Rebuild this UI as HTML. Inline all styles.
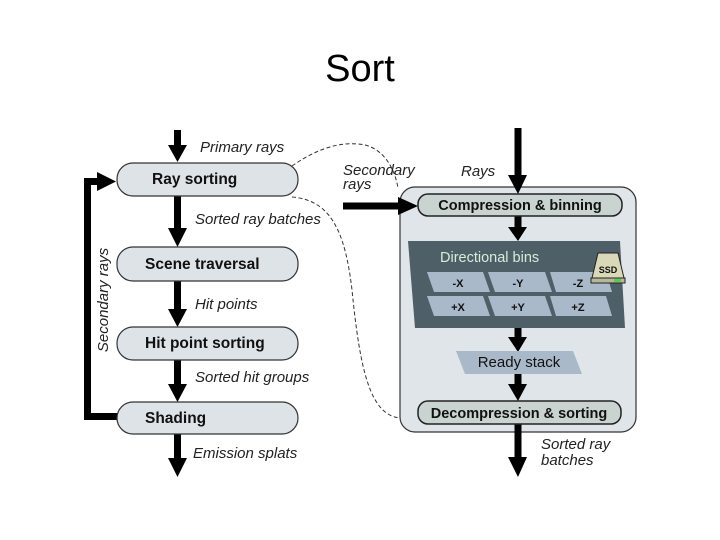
<!DOCTYPE html>
<html><head><meta charset="utf-8"><style>
html,body{margin:0;padding:0;background:#fff;}
svg{display:block;}
text{font-family:"Liberation Sans",Arial,sans-serif;}
.b{font-weight:bold;font-size:15.5px;fill:#111;}
.i{font-style:italic;font-size:15px;fill:#222;}
.bx{fill:#dde3e7;stroke:#333;stroke-width:1.2;}
.in{fill:#c9d3d0;stroke:#222;stroke-width:1.5;}
.cell{fill:#a9b9c9;}
.cl{font-size:11px;fill:#111;font-weight:bold;}
</style></head><body>
<svg width="720" height="540" viewBox="0 0 720 540">
<text x="360" y="81" text-anchor="middle" style="font-size:38px;fill:#000;">Sort</text>

<path d="M292,166 C315,150 340,140 365,145 C385,150 395,170 398,188" fill="none" stroke="#333" stroke-width="1" stroke-dasharray="4,2.5"/>
<path d="M292,197 C330,200 345,230 352,290 C360,370 370,415 400,418" fill="none" stroke="#333" stroke-width="1" stroke-dasharray="4,2.5"/>

<g fill="#000">
<rect x="174" y="130" width="7" height="17"/><polygon points="168,145 187,145 177.5,162"/>
<rect x="174" y="196" width="7" height="34"/><polygon points="168,228 187,228 177.5,247"/>
<rect x="174" y="281" width="7" height="30"/><polygon points="168,309 187,309 177.5,327"/>
<rect x="174" y="360" width="7" height="26"/><polygon points="168,384 187,384 177.5,402"/>
<rect x="174" y="434" width="7" height="26"/><polygon points="168,458 187,458 177.5,477"/>
<rect x="84" y="413" width="34" height="7"/>
<rect x="84" y="178" width="7" height="242"/>
<rect x="84" y="178" width="16" height="7"/>
<polygon points="97,172 116,181.5 97,191"/>
</g>

<rect class="bx" x="117" y="163" width="181" height="33" rx="16"/>
<rect class="bx" x="117" y="247" width="181" height="34" rx="16"/>
<rect class="bx" x="117" y="327" width="181" height="33" rx="16"/>
<rect class="bx" x="117" y="402" width="181" height="32" rx="16"/>
<text class="b" x="152" y="184">Ray sorting</text>
<text class="b" x="145" y="269">Scene traversal</text>
<text class="b" x="145" y="348">Hit point sorting</text>
<text class="b" x="145" y="423">Shading</text>

<text class="i" x="200" y="152">Primary rays</text>
<text class="i" x="195" y="224">Sorted ray batches</text>
<text class="i" x="195" y="309">Hit points</text>
<text class="i" x="195" y="382">Sorted hit groups</text>
<text class="i" x="193" y="458">Emission splats</text>
<text class="i" x="108" y="300" text-anchor="middle" transform="rotate(-90 108 300)">Secondary rays</text>

<rect x="400" y="187" width="236" height="245" rx="15" fill="#dfe5e9" stroke="#333" stroke-width="1.2"/>
<g fill="#000">
<rect x="514.5" y="128" width="7" height="50"/><polygon points="508,175 527,175 518,194"/>
<rect x="343" y="202.5" width="58" height="7"/><polygon points="398,197 418,206 398,215"/>
<rect x="514.5" y="216" width="7" height="14"/><polygon points="508,227 527,227 518,241"/>
<rect x="514.5" y="328" width="7" height="12"/><polygon points="508,337 527,337 518,352"/>
<rect x="514.5" y="373" width="7" height="13"/><polygon points="508,384 527,384 518,401"/>
<rect x="514.5" y="424" width="7" height="36"/><polygon points="508,457 527,457 518,477"/>
</g>
<rect class="in" x="418" y="194" width="204" height="22" rx="10"/>
<text class="b" x="520" y="210" text-anchor="middle" style="font-size:14.5px">Compression &amp; binning</text>

<polygon points="408,241 620,241 625,328 415,328" fill="#4f5f68"/>
<text x="440" y="262" style="font-size:14.5px;fill:#d8ecd8">Directional bins</text>
<g class="cell">
<polygon points="427,272 483,272 490,292 434,292"/>
<polygon points="488,272 545,272 552,292 495,292"/>
<polygon points="550,272 606,272 612,292 556,292"/>
<polygon points="427,296 483,296 490,316 434,316"/>
<polygon points="488,296 545,296 552,316 495,316"/>
<polygon points="550,296 606,296 612,316 556,316"/>
</g>
<g text-anchor="middle">
<text x="458" y="287" class="cl">-X</text><text x="518" y="287" class="cl">-Y</text><text x="578" y="287" class="cl">-Z</text>
<text x="458" y="311" class="cl">+X</text><text x="518" y="311" class="cl">+Y</text><text x="578" y="311" class="cl">+Z</text>
</g>
<polygon points="598,253 618,253 624,278 592,278" fill="#d9d8b8" stroke="#222" stroke-width="1"/>
<rect x="591" y="278" width="34" height="5" fill="#b8b898" stroke="#222" stroke-width="1"/>
<rect x="614" y="279" width="7" height="3" fill="#5c5"/>
<text x="608" y="273" text-anchor="middle" style="font-size:9px;font-weight:bold;fill:#111">SSD</text>

<polygon points="456,351 573,351 582,374 465,374" fill="#a9b9c9"/>
<text x="519" y="367" text-anchor="middle" style="font-size:15px;fill:#111">Ready stack</text>

<rect class="in" x="418" y="401" width="203" height="23" rx="10"/>
<text class="b" x="519" y="418" text-anchor="middle" style="font-size:14.5px">Decompression &amp; sorting</text>

<text class="i" x="343" y="175">Secondary</text>
<text class="i" x="343" y="189">rays</text>
<text class="i" x="461" y="176">Rays</text>
<text class="i" x="541" y="449">Sorted ray</text>
<text class="i" x="541" y="465">batches</text>
</svg>
</body></html>
